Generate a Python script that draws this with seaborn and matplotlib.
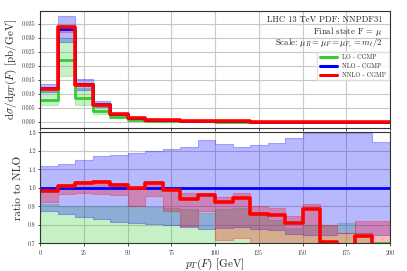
import numpy as np
import pandas as pd
import seaborn as sns
import matplotlib

matplotlib.use("Agg")
import matplotlib.pyplot as plt

# bin edges in pT(F) [GeV]
pt_edges = [0, 10, 20, 30, 40, 50, 60, 70, 80, 90, 100,
            110, 120, 130, 140, 150, 160, 170, 180, 190, 200]

# dsigma/dpT [pb/GeV], central values per bin
lo_xs = [0.0079, 0.0219, 0.0084, 0.0037, 0.0016, 0.0007, 0.0004, 0.00026, 0.00018, 0.00012,
         0.00009, 0.00007, 0.000055, 0.000045, 0.000035, 0.00003, 0.000024, 0.00002, 0.000017, 0.000014]
nlo_xs = [0.0122, 0.0332, 0.0133, 0.0062, 0.0028, 0.00134, 0.00074, 0.00048, 0.00032, 0.00022,
          0.00016, 0.00012, 0.00009, 0.00007, 0.000055, 0.000045, 0.000035, 0.00003, 0.000025, 0.00002]
nnlo_xs = [0.0118, 0.0337, 0.0132, 0.0061, 0.0028, 0.00133, 0.00076, 0.00047, 0.0003, 0.00021,
           0.00015, 0.00011, 0.00008, 0.00006, 0.000045, 0.00004, 0.000025, 0.00002, 0.000018, 0.000013]

# ratio to NLO: NNLO central
nnlo_ratio = [0.982, 1.01, 1.025, 1.032, 1.016, 0.998, 1.025, 0.986, 0.94, 0.962,
              0.925, 0.944, 0.858, 0.856, 0.81, 0.887, 0.706, 0.65, 0.738, 0.65]

# scale bands, as ratio to NLO central
lo_band_lo = [0.50, 0.49, 0.44, 0.45, 0.46, 0.46, 0.47, 0.48, 0.48, 0.49,
              0.49, 0.50, 0.50, 0.50, 0.50, 0.50, 0.50, 0.50, 0.50, 0.50]
lo_band_hi = [0.914, 0.901, 0.90, 0.90, 0.90, 0.90, 0.898, 0.892, 0.884, 0.865,
              0.885, 0.89, 0.852, 0.828, 0.785, 0.80, 0.80, 0.81, 0.756, 0.69]
nlo_band_lo = [0.875, 0.86, 0.842, 0.83, 0.817, 0.81, 0.806, 0.80, 0.79, 0.776,
               0.783, 0.79, 0.78, 0.773, 0.75, 0.747, 0.747, 0.758, 0.756, 0.747]
nlo_band_hi = [1.116, 1.131, 1.152, 1.17, 1.179, 1.186, 1.199, 1.208, 1.219, 1.258,
               1.235, 1.223, 1.23, 1.242, 1.268, 1.297, 1.298, 1.298, 1.295, 1.246]
nnlo_band_lo = [0.925, 0.968, 0.971, 0.968, 0.962, 0.905, 0.955, 0.875, 0.794, 0.875,
                0.72, 0.73, 0.65, 0.65, 0.65, 0.65, 0.65, 0.60, 0.60, 0.60]
nnlo_band_hi = [0.995, 1.02, 1.035, 1.04, 1.025, 1.005, 1.035, 0.995, 0.973, 0.975,
                0.95, 0.97, 0.90, 0.89, 0.85, 0.912, 0.80, 0.758, 0.823, 0.82]

labels = ["LO - CGMP", "NLO - CGMP", "NNLO - CGMP"]
colors = ["#33cc33", "#0000ff", "#ff0000"]
widths = [2.0, 2.0, 2.6]

sns.set_style("whitegrid")
plt.rcParams.update({
    "font.family": "serif",
    "font.serif": ["cmr10", "DejaVu Serif"],
    "mathtext.fontset": "cm",
    "axes.formatter.use_mathtext": True,
    "axes.edgecolor": "#333333",
    "axes.linewidth": 0.8,
    "grid.color": "#c8c8c8",
    "grid.linewidth": 0.8,
    "xtick.bottom": True,
    "ytick.left": True,
    "xtick.major.size": 1.8,
    "ytick.major.size": 1.8,
    "xtick.major.pad": 1.5,
    "ytick.major.pad": 1.5,
    "xtick.major.width": 0.6,
    "ytick.major.width": 0.6,
    "xtick.color": "#333333",
    "ytick.color": "#333333",
    "xtick.labelsize": 4.3,
    "ytick.labelsize": 4.3,
})


def step_vals(v):
    # repeat last value so steps-post reaches the last edge
    return list(v) + [v[-1]]


nlo_arr = np.array(nlo_xs)
lo_ratio = np.array(lo_xs) / nlo_arr
nlo_ratio = np.ones(len(nlo_xs))

fig = plt.figure(figsize=(4.07, 2.71), dpi=100)
ax_top = fig.add_axes([0.099, 0.5288, 0.859, 0.4317])
ax_bot = fig.add_axes([0.099, 0.1015, 0.859, 0.4103], sharex=ax_top)

bands = [(lo_band_lo, lo_band_hi), (nlo_band_lo, nlo_band_hi), (nnlo_band_lo, nnlo_band_hi)]

# upper panel
for (lo, hi), c in zip(bands, colors):
    ax_top.fill_between(pt_edges, step_vals(np.array(lo) * nlo_arr), step_vals(np.array(hi) * nlo_arr),
                        step="post", color=c, alpha=0.28, lw=0.8)
for vals, lab, c, w in zip([lo_xs, nlo_xs, nnlo_xs], labels, colors, widths):
    df = pd.DataFrame({"pt": pt_edges, "xs": step_vals(vals)})
    sns.lineplot(data=df, x="pt", y="xs", ax=ax_top, color=c, lw=w, label=lab,
                 drawstyle="steps-post", estimator=None, sort=False)

# lower panel
for (lo, hi), c in zip(bands, colors):
    ax_bot.fill_between(pt_edges, step_vals(lo), step_vals(hi), step="post",
                        color=c, alpha=0.28, lw=0.8)
for vals, c, w in zip([lo_ratio, nlo_ratio, nnlo_ratio], colors, widths):
    df = pd.DataFrame({"pt": pt_edges, "r": step_vals(vals)})
    sns.lineplot(data=df, x="pt", y="r", ax=ax_bot, color=c, lw=w,
                 drawstyle="steps-post", estimator=None, sort=False, legend=False)

ax_top.set_xlim(0, 200)
ax_top.set_ylim(-0.0021, 0.0396)
ax_top.set_yticks(np.arange(0, 0.0351, 0.005))
ax_top.set_yticklabels(["%.3f" % t for t in np.arange(0, 0.0351, 0.005)])
ax_top.tick_params(labelbottom=False)
ax_top.set_xlabel("")
ax_top.set_ylabel(r"$\mathrm{d}\sigma/\mathrm{d}p_T(F)$ [pb/GeV]", fontsize=8, labelpad=2)

ax_bot.set_ylim(0.7, 1.3)
ax_bot.set_xticks([0, 25, 50, 75, 100, 125, 150, 175, 200])
ax_bot.set_yticks([0.7, 0.8, 0.9, 1.0, 1.1, 1.2, 1.3])
ax_bot.set_yticklabels(["0.7", "0.8", "0.9", "1.0", "1.1", "1.2", "1.3"])
ax_bot.set_xlabel(r"$p_T(F)$ [GeV]", fontsize=8)
ax_bot.xaxis.set_label_coords(0.5, -0.12)
ax_bot.set_ylabel("ratio to NLO", fontsize=8, labelpad=4)

for ax in (ax_top, ax_bot):
    ax.grid(True)
    ax.set_axisbelow(True)

txt = ["LHC 13 TeV PDF: NNPDF31", r"Final state F = $\mu$",
       r"Scale: $\mu_R = \mu_F = \mu_{F_r} = m_t/2$"]
for t, y in zip(txt, [0.9, 0.8, 0.7]):
    ax_top.text(0.979, y, t, transform=ax_top.transAxes, ha="right", va="baseline", fontsize=6.3)

leg = ax_top.legend(loc="upper right", bbox_to_anchor=(0.997, 0.65), borderaxespad=0,
                    fontsize=4.5, handlelength=2.8, labelspacing=0.5, frameon=True,
                    fancybox=True, framealpha=0.8, edgecolor="#dddddd")
for h in leg.get_lines():
    h.set_linewidth(2.2)

fig.savefig("out.png", dpi=100)
